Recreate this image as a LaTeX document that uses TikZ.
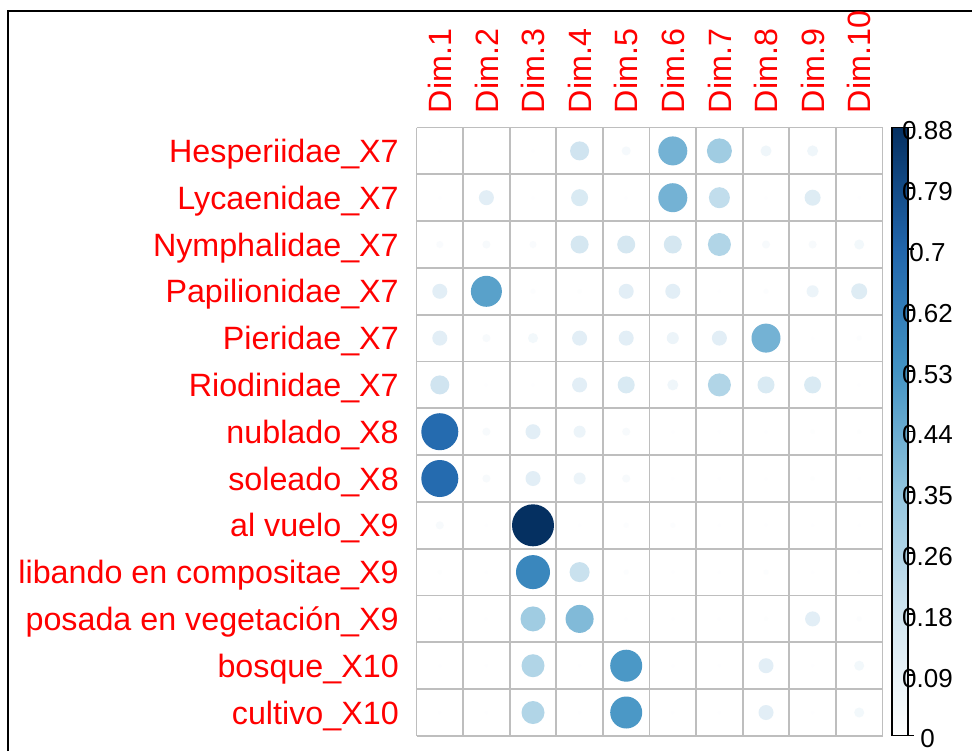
\documentclass[tikz,border=0pt]{standalone}
\usepackage{fontspec}
\setmainfont{Liberation Sans}
\definecolor{cZ}{HTML}{FFFFFF}
\definecolor{cA}{HTML}{D1E5F0}
\definecolor{cB}{HTML}{92C5DE}
\definecolor{cC}{HTML}{4393C3}
\definecolor{cD}{HTML}{2166AC}
\definecolor{cE}{HTML}{053061}
\definecolor{gridgray}{HTML}{BEBEBE}
\definecolor{lblred}{HTML}{FF0000}
\newcommand\bub[3]{%
  \pgfmathsetmacro\bt{((#3)/42)^2}%
  \pgfmathtruncatemacro\bseg{min(floor(\bt*5),4)}%
  \pgfmathsetmacro\bpc{min(max((\bt*5-\bseg)*100,0),100)}%
  \ifcase\bseg \colorlet{bcol}{cA!\bpc!cZ}%
  \or \colorlet{bcol}{cB!\bpc!cA}%
  \or \colorlet{bcol}{cC!\bpc!cB}%
  \or \colorlet{bcol}{cD!\bpc!cC}%
  \else \colorlet{bcol}{cE!\bpc!cD}\fi
  \fill[bcol] ({416.5+46.6*(#1-0.5)},{127.5+46.8*(#2-0.5)}) circle[radius={(#3)*0.375pt}];
}
\begin{document}
\begin{tikzpicture}[x=0.75pt,y=-0.75pt,
  gridln/.style={draw=gridgray,line width=1.3pt},
  rowlbl/.style={anchor=base east,inner sep=0pt,text=lblred,font=\fontsize{24.2}{28}\selectfont},
  collbl/.style={anchor=base west,rotate=90,inner sep=0pt,text=lblred,font=\fontsize{24.2}{28}\selectfont},
  cblbl/.style={anchor=base,inner sep=0pt,text=black,font=\fontsize{19.5}{22}\selectfont},
  frameln/.style={draw=black,line width=1.7pt}]
\useasboundingbox (0,0) rectangle (972,751);
\fill[white] (0,0) rectangle (972,751);
% frame
\draw[frameln] (8,751) -- (8,11) -- (972,11);
% grid
\foreach \i in {0,...,10} \draw[gridln] ({416.5+46.6*\i},127.5) -- ({416.5+46.6*\i},735.9);
\foreach \j in {0,...,13} \draw[gridln] (416.5,{127.5+46.8*\j}) -- (882.5,{127.5+46.8*\j});
% circles (diameters in px)
\foreach [count=\j] \row in {
  {3,2,3,19,9,29,25,11,11,2},
  {3,15,3,17,3,29,21,3,16,3},
  {7,8,7,18,18,18,23,8,8,10},
  {15,31,5,4,15,15,3,5,12,16},
  {15,8,10,15,15,12,15,29,3,5},
  {19,3,3,15,17,11,23,17,17,3},
  {37,8,15,12,8,3,3,3,4,4},
  {37,8,15,12,8,3,3,3,4,3},
  {8,3,42,3,5,5,3,3,3,3},
  {4,3,34,20,5,3,3,5,3,3},
  {3,3,25,28,3,3,3,4,15,5},
  {3,3,23,3,32,3,3,15,3,10},
  {3,3,23,3,32,3,3,15,3,10}}{
  \foreach [count=\i] \d in \row { \bub{\i}{\j}{\d} }
}
% row labels
\foreach [count=\j] \t in {Hesperiidae\_X7,Lycaenidae\_X7,Nymphalidae\_X7,Papilionidae\_X7,Pieridae\_X7,Riodinidae\_X7,nublado\_X8,soleado\_X8,al vuelo\_X9,libando en compositae\_X9,posada en vegetación\_X9,bosque\_X10,cultivo\_X10}
  \node[rowlbl] (r\j) at (399,{127.5+46.8*(\j-0.5)+11.6}) {\t};
% column labels
\foreach \i in {1,...,10}
  \node[collbl] (d\i) at ({416.5+46.6*(\i-0.5)+11.6},113.5) {Dim.\i};
% colour bar
\shade[bottom color=cZ,top color=cA] (892,735.5) rectangle (908,613.9);
\shade[bottom color=cA,top color=cB] (892,613.9) rectangle (908,492.3);
\shade[bottom color=cB,top color=cC] (892,492.3) rectangle (908,370.7);
\shade[bottom color=cC,top color=cD] (892,370.7) rectangle (908,249.1);
\shade[bottom color=cD,top color=cE] (892,249.1) rectangle (908,127.5);
\draw[black,line width=1.3pt] (892,127.5) rectangle (908,735.5);
\foreach [count=\k] \v in {0.88,0.79,0.7,0.62,0.53,0.44,0.35,0.26,0.18,0.09,0} {
  \draw[black,line width=1.3pt] (908,{127.5+60.8*(\k-1)}) -- (914,{127.5+60.8*(\k-1)});
  \node[cblbl] (cb\k) at (927.5,{127.5+60.8*(\k-1)+12.3}) {\v};
}
\end{tikzpicture}
\end{document}
